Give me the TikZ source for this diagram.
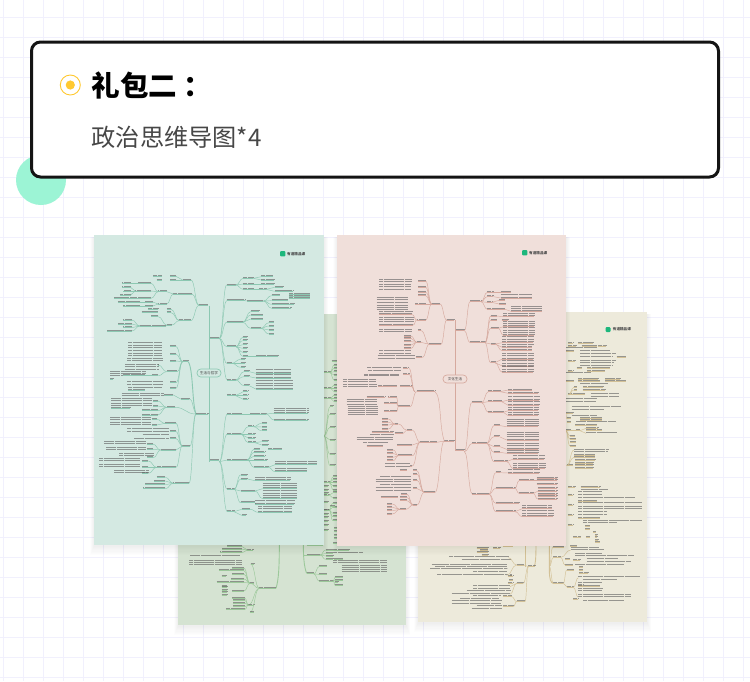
\documentclass[tikz,border=0pt]{standalone}
\usepackage{fontspec}
\newfontfamily\cjk{Noto Sans CJK SC}
\definecolor{gridc}{HTML}{F1F0FD}
\definecolor{mintc}{HTML}{9CF4D5}
\definecolor{sunc}{HTML}{FFC931}
\definecolor{tealS}{HTML}{D4E9E2}
\definecolor{pinkS}{HTML}{F0DFDA}
\definecolor{sageS}{HTML}{D5E3D2}
\definecolor{beigS}{HTML}{EDEADB}
\definecolor{tealB}{HTML}{8CC8B2}
\definecolor{pinkB}{HTML}{D6A99E}
\definecolor{sageB}{HTML}{9CC89A}
\definecolor{beigB}{HTML}{D3C196}
\definecolor{logoc}{HTML}{1DB77C}
\colorlet{brc}{tealB}
\tikzset{
  brl/.style={draw=brc,line width=.45pt},
  trunk/.style={draw=brc,line width=.9pt},
  txl/.style={draw=black!62,line width=.8pt,opacity=.62,dash pattern=on .85pt off .2pt},
  sheet/.style={inner sep=0pt,outer sep=0pt},
  pill/.style={draw=brc,line width=.7pt,rounded corners=3.8pt,inner sep=0pt,minimum height=8pt,font=\cjk\fontsize{3.6}{4}\selectfont,text=black!75},
  logotxt/.style={inner sep=0pt,anchor=west,font=\cjk\bfseries\fontsize{3.6}{4}\selectfont,text=black!70}
}
% curve only
\newcommand{\mmC}[4]{\draw[brl] (#1,#2) .. controls ({(#1+#3)/2},#2) and ({(#1+#3)/2},#4) .. (#3,#4);}
% text bar + underline
\newcommand{\mmU}[3]{\draw[brl] (#1,#3) -- (#2,#3); \draw[txl] (#1,#3-2.6) -- (#2,#3-2.6);}
% list of  x0/y0/x1/y/x2 : curve and labelled branch
\newcommand{\mmB}[1]{\foreach \a/\b/\c/\d/\e in {#1}{\mmC{\a}{\b}{\c}{\d}\mmU{\c}{\e}{\d}}}
% list of x1/x2/y : short labels keep their underline, long lines are lines of a text block
\newcommand{\mmL}[1]{\foreach \a/\b/\c in {#1}{\pgfmathtruncatemacro\wdth{abs(\b-\a)}\ifnum\wdth<70 \draw[brl] (\a,\c) -- (\b,\c);\fi \draw[txl] (\a,\c-2.6) -- (\b,\c-2.6);}}
\newcommand{\mmShadow}[4]{\foreach \s in {1,...,8}{\fill[black,opacity=.009] (#1-\s*.5,#2+2) rectangle (#3+\s*.5,#4+1+\s*1.1);}}
\tikzset{zoomed/.style={x=.33333pt,y=-.33333pt}}
\begin{document}
\begin{tikzpicture}[x=1pt,y=-1pt]
\useasboundingbox (0,0) rectangle (750,681);
\fill[white] (0,0) rectangle (750,681);
% ---- paper grid
\foreach \x in {3,23,...,743}{\draw[gridc,line width=1pt] (\x,0) -- (\x,681);}
\foreach \y in {17,37,...,677}{\draw[gridc,line width=1pt] (0,\y) -- (750,\y);}
% ---- heading
\fill[mintc] (41,180) circle (25);
\node[sheet,draw=black!92,line width=3pt,fill=white,rounded corners=9pt,minimum width=687pt,minimum height=135pt] (card) at (375,109.5) {};
\draw[sunc,line width=.9pt,fill=white] (70.3,85) circle (10);
\fill[sunc] (70.3,85) circle (4.6);
\node[inner sep=0pt,anchor=west,font=\cjk\bfseries\fontsize{28.5}{30}\selectfont,text=black] (title) at (91.5,85) {礼包二\hspace{6pt}：};
\node[inner sep=0pt,anchor=west,font=\cjk\fontsize{24.2}{28}\selectfont,text=black!72] (subtitle) at (91.5,137) {政治思维导图*4};
% ---- back sheets
\mmShadow{178}{314}{406}{625}
\mmShadow{418}{312}{647}{622}
\fill[sageS] (177.5,313.5) rectangle (406,625);
\fill[beigS] (418,311.7) rectangle (647,622);
% ---- sage sheet: visible strip
\colorlet{brc}{sageB}
\begin{scope}[shift={(320,300)},zoomed]
\mmL{35/50/183,10/30/218,10/32/265,10/32/295,10/28/548,10/28/585,10/28/630}
\mmB{30/218/42/195/50,30/218/42/205/50,30/218/42/215/50,30/218/42/225/50,30/218/42/240/50,
32/265/42/255/50,32/265/42/265/50,32/265/42/275/50,32/295/42/285/50,32/295/42/295/50,32/295/42/305/50,
12/408/30/320/40,12/408/30/342/46,12/408/30/382/46,12/408/30/420/46,12/408/30/463/46,12/408/30/497/46,
28/548/40/530/50,28/548/40/538/50,28/548/40/548/50,28/548/40/558/50,28/548/40/570/50,
28/585/40/578/50,28/585/40/595/50,
28/630/38/610/50,28/630/38/622/50,28/630/38/640/50,28/630/38/650/50,28/630/38/662/50}
\end{scope}
% ---- sage sheet: bottom
\begin{scope}[shift={(170,480)},zoomed]
\draw[trunk] (328,190) .. controls (328,260) and (326,300) .. (318,325);
\draw[trunk] (400,190) .. controls (400,230) and (402,260) .. (410,280);
\mmL{268/318/325,232/250/210,410/460/197,462/475/18,462/475/30,462/475/40,462/475/68,480/495/80,462/475/92,462/475/103,462/475/113,462/475/123,462/475/135,462/475/150,
492/500/145,492/500/155,492/500/165,492/500/175,490/500/190,410/432/280}
\mmB{268/325/242/252/252,268/325/240/310/252,268/325/235/375/252,268/325/240/397/252,
232/210/217/200/172,232/210/217/208/155,232/210/217/218/150,
240/310/222/265/185,240/310/222/272/148,240/310/222/283/185,240/310/222/297/183,240/310/222/307/140,240/310/222/333/185,
235/375/225/355/185,235/375/225/362/190,235/375/225/370/190,235/375/225/380/190,235/375/225/388/168,
402/225/410/225/450,450/225/467/210/488,450/225/467/220/488,450/225/467/228/490,450/225/467/238/490,
432/282/447/260/470,432/282/447/283/470,432/282/447/303/490,
490/303/495/292/520,490/303/495/300/520,490/303/495/308/505,490/303/495/316/520}
\mmL{58/215/244,58/215/250,58/215/256,155/168/290,155/170/318,155/172/322,155/172/330,155/172/338,155/172/347,60/210/228,
490/538/212,490/578/219,492/520/238,490/650/243,490/650/250,515/650/258,515/650/265,515/650/270,515/650/277}
\end{scope}
% ---- beige sheet: right strip
\colorlet{brc}{beigB}
\begin{scope}[shift={(500,300)},zoomed]
\mmL{205/218/130,235/280/130,205/228/138,245/290/138,295/318/138,197/290/146,197/222/155,240/330/155,240/345/162,240/335/172,350/378/172,205/225/183,240/345/183,240/340/190,240/335/198,230/245/205,262/330/205,205/218/213,262/315/213,197/270/220,235/295/238,315/360/238,197/222/244,235/300/244,315/378/244,240/325/253,222/230/262,250/310/262,222/230/270,248/315/270,205/255/284,272/357/284,272/355/292,197/290/298,197/288/306,215/360/323,215/310/331,197/220/340,215/290/348,200/212/356,240/305/356,240/305/361,200/212/367,228/345/367,225/290/376,258/295/385,197/212/392,228/240/392,258/305/392,258/350/400,210/225/408,210/228/418,210/228/428,210/228/438,222/325/450,222/320/458,222/285/466,222/285/472,225/285/480,225/280/490,200/218/497,225/280/497,225/280/505}
\mmC{205}{284}{222}{262}\mmC{205}{284}{222}{270}\mmC{197}{392}{210}{438}\mmC{197}{392}{210}{408}\mmC{197}{392}{210}{418}\mmC{200}{497}{222}{450}\mmC{200}{497}{222}{472}\mmC{200}{356}{197}{340}\mmC{212}{392}{228}{392}\mmC{240}{392}{258}{385}\mmC{240}{392}{258}{400}
\end{scope}
% ---- beige sheet: bottom
\begin{scope}[shift={(410,470)},zoomed]
\draw[trunk] (345,225) -- (345,290);
\draw[trunk] (378,225) .. controls (378,265) and (376,285) .. (372,290);
\mmL{355/375/290,320/342/285,428/462/232,430/452/262,430/460/340,320/340/340,320/345/395,
475/495/52,512/570/52,512/592/60,505/575/68,475/490/76,505/575/76,505/675/85,505/560/95,505/695/100,475/490/105,505/695/112,505/695/118,505/590/128,475/490/137,505/590/137,505/570/145,520/695/155,520/618/160,475/490/165,525/540/170,525/540/178,550/558/186,555/562/195,490/512/202,528/540/202,555/562/202,555/565/210,555/570/218,
200/235/235,250/270/235,210/235/240,200/235/247,215/235/255,280/310/228,
118/295/263,155/300/270,65/290/285,75/290/293,60/290/298,190/290/308,82/290/316,300/305/316,295/310/320,298/310/330,295/310/340,
190/300/350,190/300/358,170/300/365,125/300/373,280/305/380,190/270/380,150/265/388,125/275/395,125/270/402,200/275/410,280/310/410,185/275/418,
482/565/235,480/500/228,482/580/240,495/575/252,465/480/268,495/670/260,490/510/272,530/622/268,530/660/276,465/490/285,495/640/285,
470/492/300,508/520/292,508/520/300,508/535/310,472/490/352,505/520/345,505/690/323,518/620/332,505/575/340,505/570/348,505/580/358,505/575/365,505/660/375,505/660/382,490/505/388,520/640/394}
\mmC{355}{290}{342}{285}\mmC{355}{290}{340}{340}\mmC{355}{290}{345}{395}\mmC{320}{285}{295}{263}\mmC{320}{285}{290}{316}\mmC{320}{340}{300}{350}\mmC{320}{340}{300}{373}\mmC{320}{395}{305}{380}\mmC{320}{395}{310}{410}
\mmC{418}{290}{428}{232}\mmC{418}{290}{430}{262}\mmC{418}{290}{430}{340}\mmC{452}{262}{482}{240}\mmC{452}{262}{465}{285}\mmC{460}{340}{470}{300}\mmC{460}{340}{472}{352}\mmC{490}{352}{505}{323}\mmC{490}{352}{505}{382}
\draw[trunk] (418,228) -- (418,300) .. controls (418,325) and (422,340) .. (430,340);
\end{scope}
% ---- teal sheet
\mmShadow{94}{235}{324}{545}
\fill[tealS] (94,235) rectangle (323.5,545);
\colorlet{brc}{tealB}
\draw[trunk] (209,305.5) -- (209,462);
\node[pill,fill=tealS,minimum width=24pt] (tealc) at (209,373) {生活与哲学};
\fill[logoc,rounded corners=1pt] (280,251) rectangle (285.4,256.4);
\node[logotxt] (teallogo) at (287,253.8) {有道精品课};
\begin{scope}[shift={(90,230)},zoomed]
\mmL{327/354/226,360/388/325}
\mmB{327/226/303/150/278,327/226/306/192/250,327/226/302/272/268,
278/150/258/139/240,278/150/258/150/240,250/192/230/185/205,250/192/230/222/205,
205/185/183/160/145,205/185/183/183/135,205/185/183/205/143,145/160/122/160/95,135/183/122/172/95,135/183/122/183/100,135/183/122/195/90,143/205/140/205/72,
205/222/188/216/165,205/222/188/228/165,165/216/150/216/85,165/228/150/228/100,
268/272/243/238/230,268/272/243/248/230,268/272/245/285/230,230/285/205/260/183,230/285/228/288/150,
150/288/125/270/100,150/288/125/282/85,150/288/125/293/100,150/288/125/303/52}
\mmL{190/215/139,200/215/150,175/205/238,155/205/248}
% right upper
\mmB{388/325/410/165/437,388/325/410/212/465,388/325/410/277/458,388/325/410/350/438,388/325/410/400/425,388/325/412/450/437,
437/165/460/145/490,437/165/460/162/490,437/165/460/178/490,490/145/514/140/548,490/145/514/150/552,490/162/514/162/552,490/178/508/178/528,528/178/554/172/580,528/178/554/184/608,
465/212/470/213/520,520/213/545/197/570,520/213/545/212/595,520/213/545/223/612,520/213/545/235/602,
458/277/482/245/508,458/277/482/255/518,458/277/482/267/518,458/277/482/295/512,512/295/537/278/552,512/295/537/288/552,512/295/537/300/552,512/295/537/312/552,
438/350/458/322/472,438/350/458/332/472,438/350/458/344/472,438/350/458/355/472,438/350/458/367/472,438/350/458/379/472,472/379/498/379/565,
425/400/452/388/465,425/400/452/400/465,425/400/452/412/465,
437/450/462/425/478,437/450/462/440/478,437/450/462/467/478,
478/425/497/430/603,478/440/497/444/603,478/467/497/477/610}
\mmL{598/660/193,598/660/199,598/660/205,497/603/422,497/603/436,497/610/455,497/610/462,497/610/470}
% left middle
\mmL{278/295/395,115/215/340,115/215/348,115/215/355,115/215/365,115/215/372,115/215/380,112/218/388,112/218/395,105/205/405,105/205/412,105/205/420,60/165/428,60/165/434,60/165/440,60/70/449,112/218/458,112/218/466,115/215/475}
\mmB{278/395/258/350/240,278/395/258/373/240,278/395/258/393/240,278/395/262/425/230,230/425/205/405/208,230/425/205/437/185,185/437/165/437/100,278/395/258/458/240,278/395/258/475/240}
\draw[trunk,draw=brc] (318,552) .. controls (306,520) and (310,420) .. (295,395);
\end{scope}
\begin{scope}[shift={(90,390)},zoomed]
\mmL{318/354/72,360/388/212,412/437/17,272/298/27}
\mmB{437/17/460/5/475,437/17/460/17/475,437/17/460/28/475}
\draw[brl] (318,72) .. controls (305,50) and (310,27) .. (298,27);
\mmB{318/72/255/52/230,318/72/300/168/277,318/72/297/280/250,
272/27/250/15/222,230/52/203/33/190,230/52/203/48/190,230/52/203/62/157,230/52/203/75/157,
277/168/258/100/225,277/168/258/125/240,277/168/258/146/240,277/168/258/180/212,277/168/258/232/200,
225/100/200/88/185,225/100/200/105/185,212/180/188/162/170,212/180/188/178/170,212/180/190/203/170,
200/232/175/213/155,200/232/175/232/155,200/232/175/250/155,
250/280/226/262/200,250/280/226/273/193,250/280/226/284/165,250/280/226/296/160}
\mmL{115/165/0,95/218/12,95/218/18,63/185/28,63/185/34,63/185/44,63/185/50,63/120/56,60/180/84,60/180/91,60/180/100,60/180/107,112/235/119,112/235/126,158/235/135,132/235/147,42/165/157,42/165/163,48/165/174,48/165/181,88/190/192,88/190/200,28/150/209,28/150/215,28/150/225,28/150/232,72/175/243,72/175/250}
% right lower
\mmB{388/215/412/72/455,388/215/412/132/452,388/215/412/210/472,388/215/412/298/432,388/215/412/365/432,
455/72/480/72/528,528/72/552/70/655,528/72/552/90/655,
452/132/475/110/490,452/132/475/132/495,452/132/475/144/495,452/132/475/158/495,490/110/515/100/530,490/110/515/111/530,490/110/515/122/530,495/158/515/155/535,495/158/515/165/535,
472/210/492/177/510,472/210/492/187/525,472/210/492/198/525,472/210/492/210/530,472/210/492/232/535,
535/232/555/224/680,535/232/555/245/650,
432/298/452/255/472,432/298/452/267/472,432/298/452/303/495,432/298/452/338/495,
472/267/495/272/600,495/303/518/296/620,495/303/518/326/620,495/338/495/343/612,
432/365/455/358/480,432/365/455/376/468,480/358/505/367/605}
\mmL{535/575/177,552/655/58,552/655/64,555/680/217,555/650/237,495/600/266,518/620/282,518/620/289,518/620/305,518/620/312,518/620/319,495/612/335,505/605/352,505/605/359}
\end{scope}
% ---- pink sheet
\mmShadow{337}{235}{566}{545}
\fill[pinkS] (336.7,235) rectangle (565.7,545.7);
\colorlet{brc}{pinkB}
\draw[trunk] (455,320) -- (455,451);
\node[pill,fill=pinkS,minimum width=24pt] (pinkc) at (455,379) {文化生活};
\fill[logoc,rounded corners=1pt] (522,250) rectangle (527.4,255.4);
\node[logotxt] (pinklogo) at (529,252.8) {有道精品课};
\begin{scope}[shift={(335,230)},zoomed]
\mmL{335/358/270,362/388/302}
\mmB{335/270/315/222/290,335/270/318/343/283,
290/222/272/153/248,290/222/272/172/248,290/222/272/186/248,290/222/272/197/248,290/222/272/222/240,290/222/272/270/245,
245/270/232/254/133,245/270/235/285/133,
283/343/258/302/248,283/343/258/337/245,283/343/262/382/243,245/337/228/318/208,245/337/228/325/208,245/337/228/335/208,245/337/228/345/208,245/337/228/355/208,
388/302/405/215/438,388/302/405/338/450,
438/215/457/187/475,438/215/457/200/475,438/215/457/217/470,438/215/457/238/510,470/217/492/211/510,470/217/492/222/512,475/187/497/187/528,475/200/497/204/590,510/238/528/244/620,
450/338/467/258/485,450/338/467/270/485,450/338/467/295/490,450/338/467/342/480,450/338/467/398/480,485/258/505/260/598,490/295/505/290/598,490/295/505/316/598,480/342/502/338/595,480/342/502/352/590,480/342/502/362/590,480/398/502/387/595,480/398/502/408/595,480/398/502/427/595}
\mmL{133/228/150,133/228/157,133/225/165,133/225/172,133/225/180,125/218/205,125/218/212,125/218/220,125/218/228,125/218/235,125/218/242,133/232/247,133/235/264,133/235/271,133/235/278,133/230/300,133/230/307,133/225/365,133/225/372,128/240/380,128/240/388,
497/590/197,528/620/232,528/620/238,505/598/254,500/520/270,505/598/278,505/598/284,505/598/296,505/598/303,505/598/310,502/595/322,502/595/330,502/595/345,502/595/373,502/595/380,502/595/395,502/595/402,502/595/412,502/595/420,
205/220/415,97/195/415,205/222/433,100/195/425,88/190/435,88/190/440,195/230/470,130/185/470,25/120/450,25/120/456,25/125/466,25/125/473}
\mmC{240}{485}{222}{415}\mmC{240}{485}{222}{433}\mmC{240}{485}{230}{470}
\end{scope}
\begin{scope}[shift={(335,390)},zoomed]
\mmL{328/358/153,362/388/182}
\draw[brl] (328,153) .. controls (312,110) and (320,20) .. (300,5);
\mmU{245}{300}{5}
\mmB{245/5/225/50/190,190/50/185/22/160,190/50/185/40/148,190/50/185/65/148,
328/153/305/157/255,255/157/232/120/215,255/157/232/165/185,255/157/232/197/190,255/157/232/228/225,
215/120/190/102/180,180/102/160/87/140,180/102/160/97/140,180/102/160/105/140,180/102/160/117/140,215/120/205/130/180,
190/197/175/180/155,190/197/175/190/155,190/197/175/202/155,190/197/175/212/155,
328/153/300/307/268,268/307/245/242/235,268/307/245/252/235,268/307/245/270/235,268/307/245/295/235,268/307/245/345/235,
235/345/215/312/197,235/345/215/322/195,235/345/215/332/195,235/345/212/358/195,195/358/172/342/155,195/358/172/352/155,195/358/172/362/155,195/358/172/372/155}
\mmL{95/150/22,35/125/32,35/125/38,35/125/45,38/128/52,38/128/58,38/128/64,38/128/70,38/128/76,110/175/127,105/175/136,65/175/146,65/175/152,85/160/160,95/145/170,150/225/222,150/225/232,195/215/242,135/228/262,122/228/270,122/228/277,135/228/287,122/228/296,122/228/303,137/190/322}
\mmB{388/185/410/38/440,388/185/412/160/455,388/185/412/312/462,
440/38/460/5/495,440/38/460/35/500,440/38/460/67/505,495/5/520/0/590,495/5/520/10/610,500/35/520/30/612,500/35/520/46/612,505/67/520/62/610,505/67/520/77/610,
455/160/477/107/495,455/160/477/140/493,455/160/477/170/495,455/160/477/187/495,455/160/477/215/515,495/107/515/110/610,493/140/515/150/612,495/170/515/178/610,495/187/515/190/610,515/215/535/207/628,515/215/535/236/630,
462/312/482/248/495,462/312/482/295/540,462/312/482/340/552,462/312/482/365/540,495/248/520/249/612,
540/295/552/272/595,540/295/552/310/595,595/272/605/272/665,595/310/608/304/665,595/310/608/327/665,
540/365/562/356/650,540/365/562/380/655}
\mmL{520/612/23,520/612/38,520/610/55,520/610/70,515/610/90,515/610/97,515/610/103,515/612/130,515/612/137,515/612/143,515/610/162,515/610/170,515/610/185,535/628/200,535/630/222,535/630/229,520/612/242,605/665/264,605/665/283,608/665/295,608/665/313,608/665/320,562/650/350,562/655/365,562/655/372}
\end{scope}
% ---- beige logo
\fill[logoc,rounded corners=1pt] (605.7,327) rectangle (610.5,332);
\node[logotxt] (beiglogo) at (612.7,329.6) {有道精品课};
\end{tikzpicture}
\end{document}
